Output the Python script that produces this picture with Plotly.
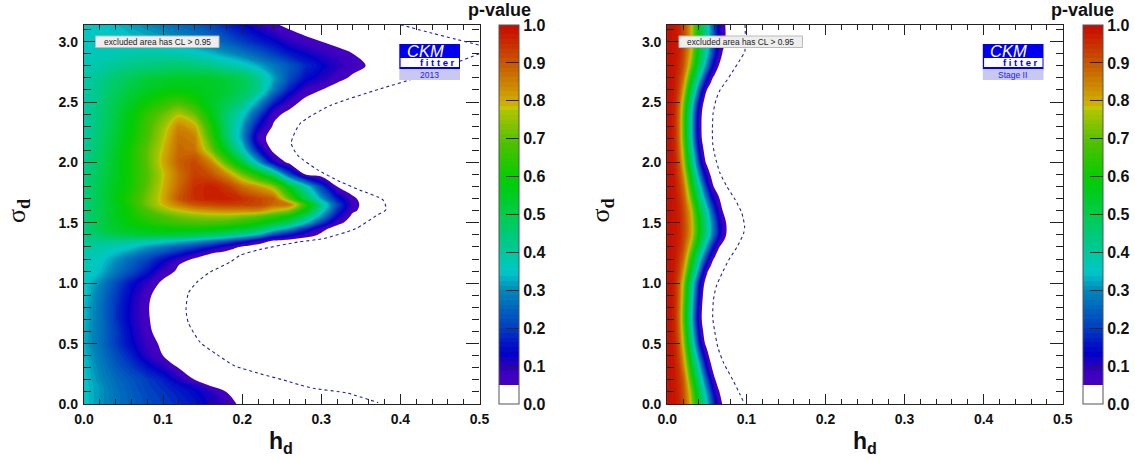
import plotly.graph_objects as go

W, H = 1135, 462
FONT = "Liberation Sans"

h_left = [0, .02, .04, .06, .08, .10, .12, .14, .16, .18, .20, .22, .24, .26, .28, .30, .32, .34, .36, .38, .50]
sigma_left = [0, .1, .15, .2, .3, .4, .5, .6, .7, .8, .9, 1.0, 1.1, 1.15, 1.2, 1.25, 1.3, 1.35, 1.4, 1.45, 1.5, 1.55,
              1.6, 1.65, 1.7, 1.8, 1.9, 2.0, 2.1, 2.2, 2.3, 2.4, 2.5, 2.6, 2.7, 2.8, 2.9, 3.0, 3.14]
p_left_rows = [
    [.35, .31, .27, .245, .22, .20, .18, .155, .12, .085, .03, .01],
    [.35, .31, .27, .24, .21, .19, .165, .14, .105, .05, .02, .005],
    [.35, .31, .265, .235, .205, .18, .15, .115, .05, .02, .005],
    [.35, .30, .26, .23, .20, .17, .11, .05, .02, .007],
    [.345, .29, .24, .20, .155, .11, .047, .015, .005],
    [.34, .28, .22, .17, .10, .05, .02, .005],
    [.33, .27, .20, .14, .08, .035, .012, .003],
    [.33, .27, .20, .13, .062, .022, .008],
    [.34, .27, .19, .12, .056, .02, .006],
    [.34, .27, .19, .12, .054, .02, .005],
    [.35, .28, .20, .13, .06, .022, .006],
    [.36, .30, .22, .15, .09, .035, .01],
    [.37, .34, .28, .22, .16, .08, .04, .015],
    [.37, .35, .295, .24, .185, .115, .05, .025, .008],
    [.37, .36, .31, .26, .21, .15, .09, .04, .015],
    [.385, .375, .34, .305, .26, .215, .165, .115, .055, .03, .012],
    [.40, .39, .37, .35, .31, .28, .24, .20, .15, .09, .04, .015],
    [.42, .42, .42, .41, .39, .37, .35, .32, .28, .23, .17, .09, .04, .02, .01],
    [.43, .47, .50, .52, .53, .53, .52, .50, .48, .45, .40, .33, .20, .14, .08, .04, .01],
    [.44, .50, .54, .56, .58, .59, .60, .60, .59, .57, .54, .50, .40, .30, .18, .07, .02, .005],
    [.44, .50, .55, .59, .62, .65, .67, .68, .68, .67, .64, .60, .54, .47, .35, .20, .07, .02],
    [.44, .50, .56, .61, .65, .68, .71, .73, .74, .74, .72, .69, .64, .58, .46, .30, .13, .03],
    [.44, .50, .56, .62, .68, .74, .78, .81, .83, .84, .84, .84, .78, .72, .58, .38, .18, .06, .02],
    [.44, .50, .56, .63, .72, .79, .85, .90, .92, .93, .93, .92, .88, .86, .65, .42, .22, .07, .02],
    [.44, .50, .57, .64, .72, .80, .90, .95, .97, .97, .95, .92, .89, .70, .50, .32, .16, .06, .02],
    [.44, .50, .56, .62, .70, .79, .88, .95, .97, .94, .87, .82, .74, .55, .38, .20, .05, .02],
    [.43, .49, .55, .62, .69, .78, .87, .93, .91, .84, .72, .60, .46, .22, .05, .02, .005],
    [.42, .48, .55, .62, .70, .80, .89, .92, .85, .69, .52, .33, .12, .03, .01],
    [.41, .47, .54, .62, .70, .79, .88, .87, .73, .55, .38, .16, .03, .01],
    [.40, .46, .53, .60, .68, .77, .87, .85, .67, .48, .31, .08, .02, .005],
    [.39, .45, .52, .59, .67, .75, .84, .80, .63, .46, .32, .14, .04, .01],
    [.39, .45, .51, .58, .65, .71, .77, .71, .58, .46, .37, .22, .07, .03, .01],
    [.39, .44, .50, .55, .60, .64, .67, .62, .55, .50, .44, .32, .17, .08, .03, .01],
    [.39, .43, .48, .52, .55, .57, .58, .57, .55, .53, .49, .42, .28, .16, .08, .05, .02],
    [.39, .42, .46, .49, .52, .53, .54, .54, .54, .52, .49, .42, .32, .22, .15, .11, .07, .04, .01],
    [.37, .39, .41, .43, .44, .45, .46, .45, .43, .40, .37, .33, .28, .23, .18, .14, .10, .07, .045, .01],
    [.36, .37, .375, .385, .39, .39, .38, .365, .34, .31, .28, .24, .20, .16, .13, .10, .08, .05, .02, .005],
    [.36, .36, .355, .35, .34, .33, .31, .29, .27, .24, .20, .17, .14, .10, .07, .05, .025, .01],
    [.36, .35, .34, .32, .30, .28, .26, .24, .21, .17, .14, .10, .06, .03, .01],
]

h_right = [0, .005, .01, .015, .02, .025, .03, .035, .04, .045, .05, .055, .06, .065, .07, .075, .08, .085, .09, .5]
sigma_right = [0, .1, .2, .3, .5, .7, .9, 1.0, 1.1, 1.2, 1.3, 1.4, 1.5, 1.6, 1.8, 2.0, 2.2, 2.4, 2.5, 2.6, 2.7, 2.8,
               2.9, 3.0, 3.14]
p_right_rows = [
    [1, .99, .98, .965, .925, .86, .78, .65, .54, .45, .365, .26, .165, .09, .045, .025, .01],
    [1, .988, .977, .957, .917, .84, .74, .615, .505, .41, .31, .205, .115, .055, .03, .012],
    [1, .987, .975, .947, .905, .80, .67, .545, .44, .335, .225, .12, .055, .027, .01],
    [1, .986, .973, .937, .86, .74, .595, .475, .37, .25, .13, .06, .025, .008],
    [1, .983, .962, .90, .775, .61, .46, .32, .175, .075, .028, .007],
    [1, .98, .955, .87, .71, .53, .385, .225, .095, .033, .01],
    [1, .982, .958, .885, .74, .565, .42, .27, .13, .05, .017, .003],
    [1, .983, .96, .895, .765, .595, .45, .305, .16, .065, .024, .005],
    [1, .985, .97, .925, .835, .69, .54, .42, .29, .15, .06, .025, .007],
    [1, .987, .975, .94, .885, .77, .63, .505, .395, .285, .17, .08, .038, .017, .004],
    [1, .988, .977, .957, .917, .84, .74, .615, .505, .41, .31, .205, .115, .055, .03, .012],
    [1, .99, .98, .968, .93, .88, .81, .70, .59, .495, .415, .325, .23, .145, .085, .045, .023, .01],
    [1, .99, .98, .968, .93, .88, .81, .70, .59, .495, .415, .325, .23, .145, .085, .045, .023, .01],
    [1, .99, .98, .965, .925, .865, .79, .66, .55, .46, .375, .27, .175, .10, .05, .03, .012],
    [1, .987, .975, .94, .885, .77, .63, .505, .395, .285, .17, .08, .038, .017, .004],
    [1, .984, .965, .905, .79, .625, .475, .345, .20, .09, .035, .01],
    [1, .98, .955, .87, .71, .53, .385, .225, .095, .033, .01],
    [1, .98, .955, .87, .71, .53, .385, .225, .095, .033, .01],
    [1, .982, .96, .89, .75, .58, .435, .285, .145, .057, .02, .004],
    [1, .985, .97, .92, .82, .66, .51, .39, .25, .125, .05, .02, .005],
    [1, .987, .974, .938, .875, .755, .61, .49, .38, .265, .15, .07, .03, .012],
    [1, .988, .977, .955, .912, .83, .72, .595, .485, .395, .285, .18, .10, .05, .025, .01],
    [1, .99, .98, .965, .925, .86, .78, .65, .54, .45, .365, .26, .165, .09, .045, .025, .01],
    [1, .99, .98, .967, .928, .873, .80, .68, .57, .48, .395, .30, .205, .125, .07, .04, .018, .006],
    [1, .99, .98, .967, .928, .873, .80, .68, .57, .48, .395, .30, .205, .125, .07, .04, .018, .006],
]

dash_left_upper_h = [.40, .44, .47, .50]
dash_left_upper_s = [3.14, 3.07, 3.02, 2.97]
dash_left_h = [.50, .46, .42, .375, .311, .273, .262, .27, .295, .324, .349, .378, .382, .371, .343, .303, .27, .223,
               .197, .185, .159, .143, .132, .129, .132, .147, .168, .189, .223, .257, .273, .29, .333, .372]
dash_left_s = [2.90, 2.80, 2.70, 2.61, 2.47, 2.32, 2.16, 2.06, 1.94, 1.84, 1.77, 1.69, 1.61, 1.565, 1.45, 1.37, 1.34,
               1.28, 1.23, 1.175, 1.09, 1.01, .92, .78, .67, .51, .41, .32, .25, .19, .157, .13, .09, .01]
dash_right_h = [.0983, .098, .092, .0838, .0754, .0667, .0617, .058, .057, .0574, .0604, .0667, .0754, .0859, .0943,
                .0977, .0964, .0881, .0775, .0691, .0617, .0583, .0574, .0597, .0639, .0712, .0828, .0912, .0964]
dash_right_s = [3.14, 2.92, 2.85, 2.765, 2.68, 2.60, 2.52, 2.41, 2.27, 2.16, 2.05, 1.91, 1.80, 1.69, 1.58, 1.47, 1.41,
                1.30, 1.19, 1.08, .97, .86, .72, .61, .47, .34, .20, .09, .017]

level_start, level_end, level_size = .05, 1.0, .0125
colour_stops = [(.05, "#4400c0"), (.085, "#3c00c0"), (.09, "#2800c0"), (.12, "#1400c4"), (.125, "#0000c8"),
                (.16, "#0018c4"), (.2, "#0040c0"), (.3, "#0088b8"), (.35, "#00c8c8"), (.4, "#00c8a0"),
                (.5, "#00cc50"), (.58, "#00cc10"), (.61, "#08cc00"), (.7, "#50c000"), (.78, "#a8c400"),
                (.795, "#c0c800"), (.8, "#d0b400"), (.9, "#c86400"), (.95, "#c83c00"), (1, "#c81000")]


def scale_pos(p):
    # plotly spreads a filled contour's colour scale across its levels
    n = round((level_end - level_start) / level_size) + 1
    return min(1, max(0, (p - level_start + level_size / 2) / (n * level_size)))


colourscale = [[0, "#ffffff"], [scale_pos(.049), "#ffffff"]] + [[scale_pos(p), c] for p, c in colour_stops]
colourscale[-1][0] = 1


def pad(rows, n):
    return [list(r) + [0] * (n - len(r)) for r in rows]


def px(x):
    return x / W


def py(y):
    return 1 - y / H


def contour(h, s, z, xa, ya, cb_x):
    return go.Contour(
        x=h, y=s, z=z, xaxis=xa, yaxis=ya, zmin=0, zmax=1, colorscale=colourscale,
        autocontour=False,
        contours=dict(start=level_start, end=level_end, size=level_size, coloring="fill", showlines=False),
        line=dict(width=0, smoothing=1),
        colorbar=dict(
            x=px(cb_x), xanchor="left", xref="paper", y=py(404), yanchor="bottom", yref="paper",
            len=(404 - 24.7) / H, lenmode="fraction", thickness=19.6, thicknessmode="pixels",
            xpad=0, ypad=0, outlinecolor="#555555", outlinewidth=1, borderwidth=0,
            tickmode="array", tickvals=[i / 10 for i in range(11)], ticktext=[f"{i / 10:.1f}" for i in range(11)],
            ticks="inside", ticklen=13, tickwidth=1, tickcolor="#222222",
            tickfont=dict(family=FONT, size=16, color="#111111", weight="bold"),
        ),
        hoverinfo="skip",
    )


fig = go.Figure()
fig.add_trace(contour(h_left, sigma_left, pad(p_left_rows, len(h_left)), "x", "y", 499.3))
fig.add_trace(contour(h_right, sigma_right, pad(p_right_rows, len(h_right)), "x2", "y2", 1082.6))

dash = dict(color="#2222aa", width=1.1, dash="3px,3px", shape="spline", smoothing=.6)
for xs, ys, xa, ya in [(dash_left_upper_h, dash_left_upper_s, "x", "y"), (dash_left_h, dash_left_s, "x", "y"),
                       (dash_right_h, dash_right_s, "x2", "y2")]:
    fig.add_trace(go.Scatter(x=xs, y=ys, xaxis=xa, yaxis=ya, mode="lines", line=dash, showlegend=False,
                             hoverinfo="skip", cliponaxis=True))

ax_common = dict(showgrid=False, zeroline=False, showline=True, linecolor="#222222", linewidth=1.3, mirror="allticks",
                 ticks="inside", tickwidth=1, tickcolor="#222222", layer="above traces",
                 tickfont=dict(family=FONT, size=14, color="#111111", weight="bold"))
x_axis = dict(ax_common, range=[0, .5], tick0=0, dtick=.1, tickformat=".1f", ticklen=10, ticklabelstandoff=2,
              minor=dict(dtick=.02, ticks="inside", ticklen=5, tickcolor="#222222", tickwidth=1))
y_axis = dict(ax_common, range=[0, 3.14], tick0=0, dtick=.5, tickformat=".1f", ticklen=13, ticklabelstandoff=2,
              minor=dict(dtick=.1, ticks="inside", ticklen=7, tickcolor="#222222", tickwidth=1))

fig.update_layout(
    width=W, height=H, margin=dict(l=0, r=0, t=0, b=0, autoexpand=False), paper_bgcolor="white", plot_bgcolor="white",
    showlegend=False,
    xaxis=dict(x_axis, domain=[px(84), px(479.5)], anchor="y"),
    yaxis=dict(y_axis, domain=[py(404), py(24.7)], anchor="x"),
    xaxis2=dict(x_axis, domain=[px(667.3), px(1062.7)], anchor="y2"),
    yaxis2=dict(y_axis, domain=[py(404), py(24.7)], anchor="x2"),
)


def text(x, y, s, size, color="#111111", weight="normal", family=FONT, style="normal", anchor="center", angle=0):
    fig.add_annotation(xref="paper", yref="paper", x=px(x), y=py(y), text=s, showarrow=False, xanchor=anchor,
                       yanchor="middle", textangle=angle, align="center",
                       font=dict(family=family, size=size, color=color, weight=weight, style=style))


def rect(x0, y0, x1, y1, fill, line="rgba(0,0,0,0)", width=0):
    fig.add_shape(type="rect", xref="paper", yref="paper", x0=px(x0), x1=px(x1), y0=py(y0), y1=py(y1),
                  fillcolor=fill, line=dict(color=line, width=width), layer="above")


for off, year, cb_off in [(0, "2013", 0), (583.5, "Stage II", 583.3)]:
    # x title, y title, colour-bar title
    text(281 + off, 442, "h<sub>d</sub>", 23, weight="bold")
    text(18 + off, 211, "σ<sub><b>d</b></sub>", 26, family="Liberation Serif", angle=-90)
    text(499 + cb_off, 10.5, "p-value", 18, weight="bold")
    # confidence-level label
    rect(95.5 + off, 36, 219 + off, 47.5, "#eeeeee", "#bbbbbb", 1)
    text(157 + off, 42, "excluded area has CL &gt; 0.95", 8.4, color="#222222")
    # CKMfitter logo
    rect(399.3 + off, 44, 460 + off, 69, "#0000ee")
    rect(400.6 + off, 58, 459 + off, 67, "#ffffff")
    rect(399.3 + off, 69, 460 + off, 80, "#c8c8f0")
    text(425 + off, 51, "CKM", 16.5, color="#ffffff", style="italic")
    text(437 + off, 63, "f i t t e r", 9.5, color="#0000ee", weight="bold")
    text(429 + off, 75, year, 8.5, color="#2222ee")

# white seam on the left colour bar
fig.add_shape(type="line", xref="paper", yref="paper", x0=px(500), x1=px(518.5), y0=py(102.2), y1=py(102.2),
              line=dict(color="#ffffff", width=1), layer="above")

fig.write_html("out.html", config={"displayModeBar": False}, post_script="document.body.style.margin='0';")
